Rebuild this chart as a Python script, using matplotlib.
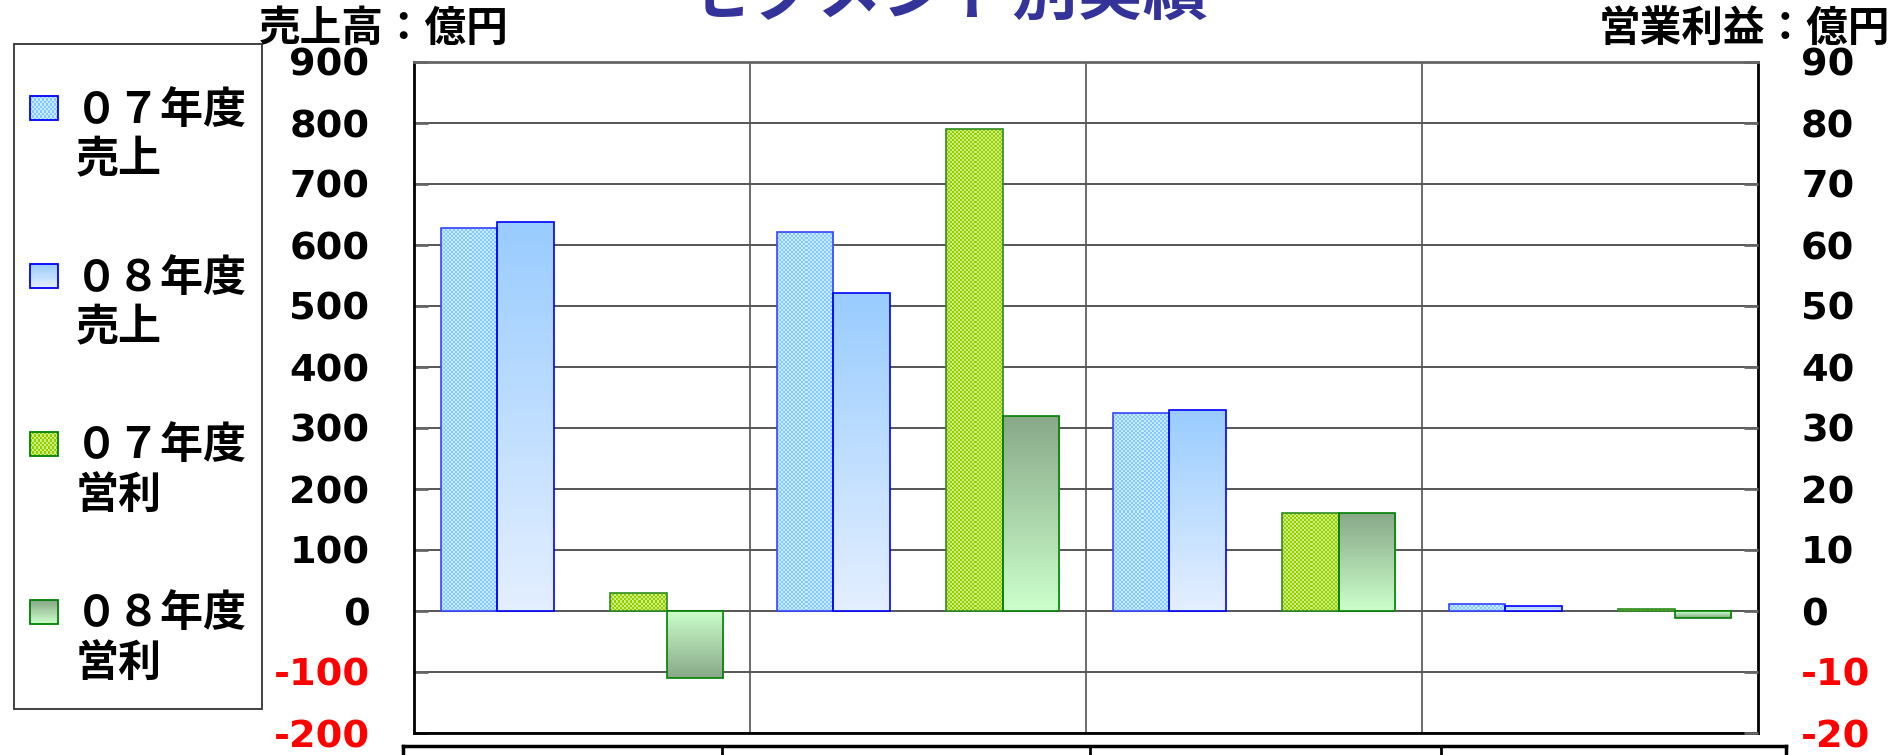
import numpy as np
import matplotlib
matplotlib.use("Agg")
import matplotlib.pyplot as plt
from matplotlib.patches import Rectangle
from matplotlib.legend_handler import HandlerBase
from matplotlib.image import BboxImage
from matplotlib.transforms import Bbox, TransformedBbox
from matplotlib.colors import to_rgb
from matplotlib.ticker import FixedLocator

plt.rcParams['font.family'] = ['Noto Sans CJK JP', 'DejaVu Sans']

# ---------------- data ----------------
segments = ['セグメントA', 'セグメントB', 'セグメントC', 'セグメントD']  # (table text cut off in image)
sales_07 = [628, 622, 325, 12]
sales_08 = [637, 522, 330, 9]
op_07 = [3, 79, 16, 0.4]
op_08 = [-11, 32, 16, -1.1]
series_labels = ['０７年度\n売上', '０８年度\n売上', '０７年度\n営利', '０８年度\n営利']
left_ticks = list(range(-200, 901, 100))
right_ticks = list(range(-20, 91, 10))
title_text = 'セグメント別実績'
left_unit = '売上高：億円'
right_unit = '営業利益：億円'

# ---------------- layout ----------------
W, H = 1899, 755
fig = plt.figure(figsize=(W / 100, H / 100), dpi=100)


def fx(px):
    return px / W


def fy(py):
    return 1 - py / H


PL, PR, PT, PB = 414, 1758, 62, 733
ax = fig.add_axes([fx(PL), fy(PB), (PR - PL) / W, (PB - PT) / H])
ax2 = ax.twinx()
n = len(segments)
ax.set_xlim(-0.5, n - 0.5)
ax.set_ylim(left_ticks[0], left_ticks[-1])
ax2.set_ylim(right_ticks[0], right_ticks[-1])
ax.set_autoscale_on(False)
ax2.set_autoscale_on(False)

# colours
BLUE_A, BLUE_B = '#8CC6FF', '#C2EEFF'
GREEN_A, GREEN_B = '#99CC00', '#C8F080'
S08_BASE, S08_TIP = '#E4EFFF', '#99CCFF'
O08_BASE, O08_TIP = '#CCFFCC', '#88A888'


def checker_arr(wpx, hpx, c1, c2, cell=2):
    nx = max(1, int(round(wpx / cell)))
    ny = max(1, int(round(hpx / cell)))
    yy, xx = np.mgrid[0:ny, 0:nx]
    m = ((xx + yy) % 2)[..., None]
    return np.where(m == 0, np.array(to_rgb(c1)), np.array(to_rgb(c2)))


def gradient_arr(hpx, base, tip, neg=False):
    nrow = max(2, int(round(hpx)))
    t = np.linspace(0, 1, nrow)[:, None]
    if neg:
        t = t[::-1]
    col = (1 - t) * np.array(to_rgb(base)) + t * np.array(to_rgb(tip))
    return col[:, None, :]


def texture(axis, patch, kind):
    x0, y0 = patch.get_x(), patch.get_y()
    wd, ht = patch.get_width(), patch.get_height()
    (px0, py0), (px1, py1) = axis.transData.transform([(x0, y0), (x0 + wd, y0 + ht)])
    wpx, hpx = abs(px1 - px0), abs(py1 - py0)
    if hpx < 0.5:
        return
    if kind == 's07':
        arr = checker_arr(wpx, hpx, BLUE_A, BLUE_B)
    elif kind == 'o07':
        arr = checker_arr(wpx, hpx, GREEN_A, GREEN_B)
    elif kind == 's08':
        arr = gradient_arr(hpx, S08_BASE, S08_TIP, ht < 0)
    else:
        arr = gradient_arr(hpx, O08_BASE, O08_TIP, ht < 0)
    ylo, yhi = sorted([y0, y0 + ht])
    im = axis.imshow(arr, extent=(x0, x0 + wd, ylo, yhi), origin='lower',
                     interpolation='nearest', aspect='auto', zorder=2.5)
    im.set_clip_path(patch)


x = np.arange(n)
w = 0.168
b_s07 = ax.bar(x - 2 * w, sales_07, w, facecolor='none', edgecolor='#3344FF', lw=1.2, zorder=3)
b_s08 = ax.bar(x - w, sales_08, w, facecolor='none', edgecolor='#0000FF', lw=1.2, zorder=3)
b_o07 = ax2.bar(x + w, op_07, w, facecolor='none', edgecolor='#2E8B22', lw=1.2, zorder=3)
b_o08 = ax2.bar(x + 2 * w, op_08, w, facecolor='none', edgecolor='#008000', lw=1.2, zorder=3)
for cont, axis, kind in [(b_s07, ax, 's07'), (b_s08, ax, 's08'),
                         (b_o07, ax2, 'o07'), (b_o08, ax2, 'o08')]:
    for p in cont.patches:
        texture(axis, p, kind)

# grid, spines, ticks
ax.set_axisbelow(True)
ax.yaxis.set_major_locator(FixedLocator(left_ticks))
ax2.yaxis.set_major_locator(FixedLocator(right_ticks))
ax.grid(axis='y', which='major', color='#555555', lw=1.4)
ax.set_xticks([])
ax.set_xticks(np.arange(n - 1) + 0.5, minor=True)
ax.grid(axis='x', which='minor', color='#444444', lw=1.1)
ax.tick_params(axis='x', which='both', length=0, labelbottom=False)
for s in ['left', 'right', 'bottom']:
    ax.spines[s].set_color('black')
    ax.spines[s].set_linewidth(2)
ax.spines['top'].set_color('#666666')
ax.spines['top'].set_linewidth(2)
for s in ax2.spines.values():
    s.set_visible(False)

tick_font = dict(family='DejaVu Sans', weight='bold', size=27.5)
ax.tick_params(axis='y', direction='in', length=10, width=2, color='#666666', pad=32)
ax2.tick_params(axis='y', direction='in', length=10, width=2, color='#666666', pad=31)
ax.set_yticklabels([f'{v}' for v in left_ticks], fontdict=tick_font)
ax2.set_yticklabels([f'{v}' for v in right_ticks], fontdict=tick_font)
for lab, v in zip(ax.get_yticklabels(), left_ticks):
    lab.set_color('#FF0000' if v < 0 else 'black')
for lab, v in zip(ax2.get_yticklabels(), right_ticks):
    lab.set_color('#FF0000' if v < 0 else 'black')

# axis unit labels and title
cjk_bold = dict(family=['Noto Sans CJK JP', 'DejaVu Sans'], weight='bold')
fig.text(fx(259), fy(29), left_unit, ha='left', va='center', fontsize=30, **cjk_bold)
fig.text(fx(1890), fy(29), right_unit, ha='right', va='center', fontsize=30, **cjk_bold)
fig.text(fx(948), fy(-6), title_text, ha='center', va='center', fontsize=47,
         color='#333399', **cjk_bold)

# ---------------- legend ----------------
LEG_FS = 31


class TexHandler(HandlerBase):
    def __init__(self, arr, edge, dy):
        super().__init__()
        self.arr, self.edge, self.dy = arr, edge, dy

    def create_artists(self, legend, orig_handle, xdescent, ydescent,
                       width, height, fontsize, trans):
        x0, y0 = -xdescent, -ydescent + self.dy
        bb = TransformedBbox(Bbox.from_bounds(x0, y0, width, height), trans)
        img = BboxImage(bb, interpolation='nearest', origin='lower')
        img.set_data(self.arr)
        r = Rectangle((x0, y0), width, height, facecolor='none',
                      edgecolor=self.edge, lw=1.3, transform=trans)
        return [img, r]


DY = 20.5
handles = [b_s07, b_s08, b_o07, b_o08]
hmap = {
    b_s07: TexHandler(checker_arr(28, 21, BLUE_A, BLUE_B), '#0000FF', DY),
    b_s08: TexHandler(gradient_arr(21, S08_BASE, S08_TIP), '#0000FF', DY),
    b_o07: TexHandler(checker_arr(28, 21, GREEN_A, GREEN_B), '#008000', DY),
    b_o08: TexHandler(gradient_arr(21, O08_BASE, O08_TIP), '#008000', DY),
}
leg = fig.legend(handles, series_labels, handler_map=hmap, loc='upper left',
                 bbox_to_anchor=(fx(30), fy(88)), frameon=False, borderpad=0,
                 borderaxespad=0,
                 prop=dict(family=['Noto Sans CJK JP', 'DejaVu Sans'], weight='bold', size=LEG_FS),
                 handlelength=0.65, handleheight=0.48, handletextpad=0.4,
                 labelspacing=1.73)
for t in leg.get_texts():
    t.set_linespacing(1.15)
fig.patches.append(Rectangle((fx(14.5), fy(708.5)), fx(261.6) - fx(14.5), fy(43.6) - fy(708.5),
                             transform=fig.transFigure, facecolor='none',
                             edgecolor='#333333', lw=1.3))

# ---------------- table strip at bottom (cut off) ----------------
table_edges = [403, 722, 1090, 1441, 1786]
tax = fig.add_axes([fx(table_edges[0]), 0, (table_edges[-1] - table_edges[0]) / W, (H - 746) / H])
tax.set_xlim(0, 1)
tax.set_ylim(0, 1)
tax.set_xticks([])
tax.set_yticks([])
for s in ['top', 'left', 'right']:
    tax.spines[s].set_linewidth(2.5)
    tax.spines[s].set_color('black')
tax.spines['bottom'].set_visible(False)
span = table_edges[-1] - table_edges[0]
for e in table_edges[1:-1]:
    tax.axvline((e - table_edges[0]) / span, color='black', lw=2)

fig.savefig('out.png', dpi=100)
